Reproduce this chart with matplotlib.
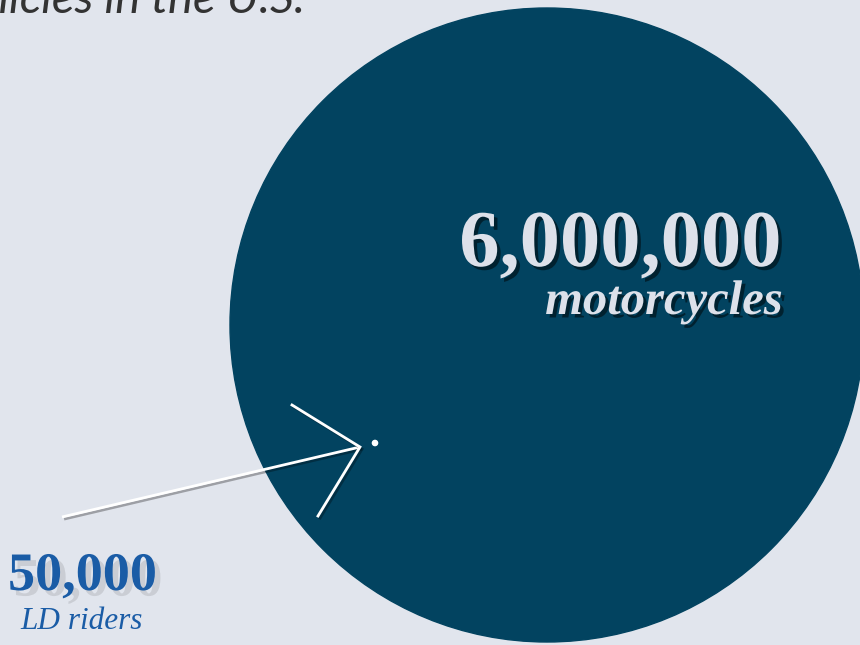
import matplotlib
matplotlib.use("Agg")
import matplotlib.pyplot as plt
import matplotlib.patches as patches
import matplotlib.patheffects as pe

# values shown in the graphic
labels = ["motorcycles", "LD riders"]
counts = [6000000, 50000]
count_text = ["6,000,000", "50,000"]
title = "Motor vehicles in the U.S."

bg = "#e1e5ed"
big_col = "#024360"
blue = "#1a5ca6"

fig = plt.figure(figsize=(8.6, 6.45), dpi=100)
fig.patch.set_facecolor(bg)
ax = fig.add_axes([0, 0, 1, 1])
ax.set_xlim(0, 860)
ax.set_ylim(645, 0)
ax.set_aspect("equal")
ax.axis("off")
ax.set_facecolor(bg)

# big circle = 6M motorcycles, tiny dot = 50k riders
big_r = 317
small_r = 2.6
ax.add_patch(patches.Circle((547, 325), big_r, color=big_col, zorder=1))
ax.add_patch(patches.Circle((375, 443), small_r, color="white", zorder=3))

line_shadow = [pe.SimpleLineShadow(offset=(1.5, -1.5), shadow_color="k", alpha=0.3), pe.Normal()]

# arrow pointing at the dot
ax.plot([62, 360], [517, 447], color="white", lw=2.0, solid_capstyle="butt",
        path_effects=line_shadow, zorder=2)
ax.plot([292, 360, 318], [405, 447, 516], color="white", lw=2.0,
        solid_joinstyle="miter", path_effects=line_shadow, zorder=2)

# title (cut off at the left edge, as in the source)
ax.text(305, 13, title, fontsize=34, style="italic", family="Lato",
        color="#333333", ha="right", va="baseline")

txt_shadow = [pe.withSimplePatchShadow(offset=(2.5, -2.5), shadow_rgbFace="k", alpha=0.5)]
ax.text(782, 266, count_text[0], fontsize=58, fontweight="bold",
        family="Liberation Serif", color="#dde1ea", ha="right", va="baseline",
        path_effects=txt_shadow)
ax.text(783, 314, labels[0], fontsize=35, fontweight="bold", style="italic",
        family="Liberation Serif", color="#dde1ea", ha="right", va="baseline",
        path_effects=txt_shadow)

soft = [pe.withSimplePatchShadow(offset=(4, -4), shadow_rgbFace="k", alpha=0.1)]
ax.text(8, 590, count_text[1], fontsize=39, fontweight="bold",
        family="Liberation Serif", color=blue, ha="left", va="baseline",
        path_effects=soft)
ax.text(82, 629, labels[1], fontsize=22.5, style="italic",
        family="Liberation Serif", color=blue, ha="center", va="baseline")

fig.savefig("out.png", dpi=100, facecolor=bg)
